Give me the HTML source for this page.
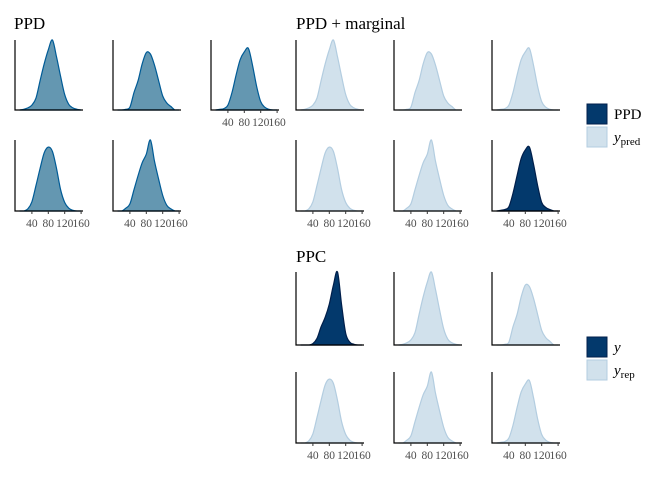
<!DOCTYPE html>
<html><head><meta charset="utf-8"><style>
body{margin:0;background:#fff;width:672px;height:480px;overflow:hidden}
text{font-family:"Liberation Serif",serif}
</style></head><body>
<svg id="c" width="672" height="480"></svg>
<script>
const grid=[10,20,30,40,50,60,70,80,90,100,110,120,130,140,150,160];
const ticks=[40,80,120,160];
const dA=[0,.01,.03,.07,.17,.42,.66,.86,1,.76,.48,.22,.08,.03,.01,0];
const dB=[0,0,.01,.04,.25,.42,.66,.82,.8,.64,.42,.2,.1,.05,0,0];
const dC=[0,.01,.02,.07,.25,.5,.72,.83,.88,.64,.34,.12,.04,.01,0,0];
const dD=[0,0,.03,.13,.36,.6,.82,.9,.84,.6,.3,.12,.04,.01,0,0];
const dE=[0,0,.04,.1,.3,.5,.68,.8,1,.7,.45,.22,.08,.03,0,0];
const dF=[0,.01,.02,.06,.25,.5,.74,.86,.9,.66,.36,.12,.05,.02,0,0];
const dG=[0,0,0,.02,.09,.25,.38,.56,.82,1,.55,.16,.04,.01,0,0];
const SVGNS="http://www.w3.org/2000/svg";
const svg=document.getElementById('c');
function mk(t,a){const e=document.createElementNS(SVGNS,t);for(const k in a)e.setAttribute(k,a[k]);svg.appendChild(e);return e;}
const MED={f:"#6497b1",s:"#005b96"},LIG={f:"#d1e1ec",s:"#b3cde0"},DRK={f:"#03396c",s:"#011f4b"};
function panel(x0,top,bot,dens,col,showTicks,name){
  const w=68;const xs=v=>x0+0.5+(v)*0.41;const ys=v=>bot-v*(bot-top);
  const pts=grid.map((g,i)=>[xs(g),ys(dens[i])]);
  let d=`M${pts[0][0]},${bot} L${pts[0][0]},${pts[0][1]}`;
  for(let i=0;i<pts.length-1;i++){
    const p0=pts[Math.max(0,i-1)],p1=pts[i],p2=pts[i+1],p3=pts[Math.min(pts.length-1,i+2)];
    const c1=[p1[0]+(p2[0]-p0[0])/6,Math.min(bot,p1[1]+(p2[1]-p0[1])/6)];
    const c2=[p2[0]-(p3[0]-p1[0])/6,Math.min(bot,p2[1]-(p3[1]-p1[1])/6)];
    d+=` C${c1[0]},${c1[1]} ${c2[0]},${c2[1]} ${p2[0]},${p2[1]}`;
  }
  d+=` L${pts[pts.length-1][0]},${bot} Z`;
  const p=mk('path',{d:d,fill:col.f,stroke:col.s,'stroke-width':1.2});
  
  
  const ax=mk('path',{d:`M${x0},${top} L${x0},${bot} L${x0+w},${bot}`,fill:'none',stroke:'#000','stroke-width':1.2});
  
  
  if(showTicks){ticks.forEach(t=>{
    mk('line',{x1:xs(t),x2:xs(t),y1:bot,y2:bot+3,stroke:'#333'});
    const tx=mk('text',{x:xs(t),y:bot+16,'text-anchor':'middle','font-size':11.5,fill:'#4d4d4d'});
    tx.textContent=t;
    
    
  });}
}
const L=[15,113,211],R=[296,394,492];
panel(L[0],40,110,dA,MED,false,'ppd-1');panel(L[1],40,110,dB,MED,false,'ppd-2');panel(L[2],40,110,dC,MED,true,'ppd-3');
panel(L[0],140,211,dD,MED,true,'ppd-4');panel(L[1],140,211,dE,MED,true,'ppd-5');
panel(R[0],40,110,dA,LIG,false,'marg-1');panel(R[1],40,110,dB,LIG,false,'marg-2');panel(R[2],40,110,dC,LIG,false,'marg-3');
panel(R[0],140,211,dD,LIG,true,'marg-4');panel(R[1],140,211,dE,LIG,true,'marg-5');panel(R[2],140,211,dF,DRK,true,'marg-ppd');
panel(R[0],272,345,dG,DRK,false,'ppc-y');panel(R[1],272,345,dA,LIG,false,'ppc-2');panel(R[2],272,345,dB,LIG,false,'ppc-3');
panel(R[0],372,443,dD,LIG,true,'ppc-4');panel(R[1],372,443,dE,LIG,true,'ppc-5');panel(R[2],372,443,dC,LIG,true,'ppc-6');
function title(x,y,s,n){const t=mk('text',{x:x,y:y,'font-size':17,fill:'#000'});t.textContent=s;}
title(14,29,'PPD','ppd-title');title(296,29,'PPD + marginal','ppd-marginal-title');title(296,262,'PPC','ppc-title');
function leg(y,col,label,sub,n){
  const r=mk('rect',{x:587,y:y,width:20,height:20,fill:col.f,stroke:col.s,'stroke-width':1});
  
  const t=mk('text',{x:614,y:y+15,'font-size':15,fill:'#000'});
  
  if(sub){t.innerHTML=`<tspan font-style="italic">${label}</tspan><tspan font-size="11" dy="3">${sub}</tspan>`;}else t.textContent=label;
  if(label==='y'&&!sub)t.setAttribute('font-style','italic');
}
leg(104,DRK,'PPD','','legend-ppd');leg(127,LIG,'y','pred','legend-ypred');
leg(337,DRK,'y','','legend-y');leg(360,LIG,'y','rep','legend-yrep');
</script>
</body></html>
